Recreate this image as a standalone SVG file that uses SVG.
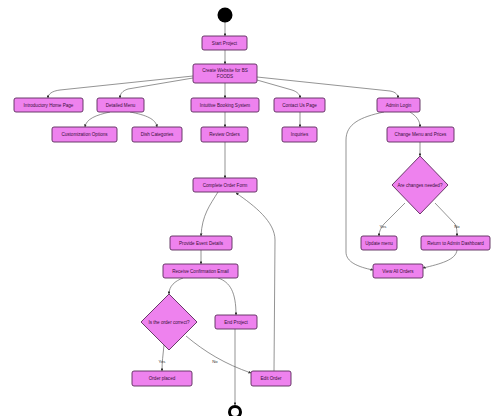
<svg xmlns="http://www.w3.org/2000/svg" width="491" height="416" viewBox="0 0 491 416">
<defs>
<marker id="ah" viewBox="0 0 6 6" refX="5.5" refY="3" markerWidth="4" markerHeight="4" orient="auto">
<path d="M0,0 L6,3 L0,6 z" fill="#333"/>
</marker>
<style>
.n{fill:#ee82ee;stroke:#5a2a5a;stroke-width:0.9}
.t{font-family:"Liberation Sans",Arial,sans-serif;font-size:4.6px;fill:#3a103a;text-anchor:middle;dominant-baseline:central}
.e{fill:none;stroke:#666;stroke-width:0.7;marker-end:url(#ah)}
.l{font-family:"Liberation Sans",Arial,sans-serif;font-size:4.2px;fill:#333;text-anchor:middle;dominant-baseline:central}
</style>
</defs>
<rect width="491" height="416" fill="#fff"/>
<g id="edges">
<path class="e" d="M225,22 L225,36"/>
<path class="e" d="M225,50 L225,64"/>
<path class="e" d="M193,76 L60,90 C52,91 48,94 48,98"/>
<path class="e" d="M193,78 L128,89 C122,91 120,94 120,98"/>
<path class="e" d="M225,83 L225,98"/>
<path class="e" d="M257,80 L292,90 C298,92 300,95 300,98"/>
<path class="e" d="M257,77 L390,91 C396,92 398,95 398,98"/>
<path class="e" d="M110,112 C96,115 86,119 85,127"/>
<path class="e" d="M130,112 C146,115 156,119 157,127"/>
<path class="e" d="M225,112 L225,127"/>
<path class="e" d="M300,112 L300,127"/>
<path class="e" d="M410,112 C416,116 420,120 420,127"/>
<path class="e" d="M225,142 L225,178"/>
<path class="e" d="M420,142 L420,156"/>
<path class="e" d="M405,203 L384,224 C381,228 379,231 379,236"/>
<path class="e" d="M435,203 L455,224 C457,228 457,231 457,236"/>
<path class="e" d="M457,250 C456,260 440,264 423,268"/>
<path class="e" d="M384,112 C360,117 346,124 346,140 L346,252 C346,262 358,267 373,270"/>
<path class="e" d="M218,192 C210,205 202,215 201,236"/>
<path class="e" d="M201,250 L201,264"/>
<path class="e" d="M183,278 C175,281 169,286 169,294"/>
<path class="e" d="M218,278 C230,282 236,292 236,315"/>
<path class="e" d="M235,329 L235,405"/>
<path class="e" d="M164,345 C163,355 162,362 162,371"/>
<path class="e" d="M186,336 C205,352 225,364 251,373"/>
<path class="e" d="M274,371 L275,240 C275,222 255,206 236,193"/>
<text class="l" x="383" y="226">Yes</text>
<text class="l" x="457" y="226">No</text>
<text class="l" x="162" y="361">Yes</text>
<text class="l" x="215" y="361">No</text>
</g>
<g id="start"><circle cx="225" cy="15" r="7.5" fill="#000"/></g>
<g id="end"><circle cx="235" cy="412" r="5.5" fill="#fff" stroke="#000" stroke-width="3"/></g>
<g id="start_project"><rect class="n" x="202" y="36" width="45" height="14" rx="2"/><text class="t" x="224.5" y="43">Start Project</text></g>
<g id="create_website"><rect class="n" x="193" y="64" width="64" height="19" rx="2"/><text class="t" x="225" y="70.5">Create Website for BS</text><text class="t" x="225" y="76.5">FOODS</text></g>
<g id="intro_home"><rect class="n" x="14" y="98" width="69" height="14" rx="2"/><text class="t" x="48.5" y="105">Introductory Home Page</text></g>
<g id="detailed_menu"><rect class="n" x="97" y="98" width="47" height="14" rx="2"/><text class="t" x="120.5" y="105">Detailed Menu</text></g>
<g id="booking"><rect class="n" x="191" y="98" width="68" height="14" rx="2"/><text class="t" x="225" y="105">Intuitive Booking System</text></g>
<g id="contact"><rect class="n" x="274" y="98" width="51" height="14" rx="2"/><text class="t" x="299.5" y="105">Contact Us Page</text></g>
<g id="admin_login"><rect class="n" x="377" y="98" width="43" height="14" rx="2"/><text class="t" x="398.5" y="105">Admin Login</text></g>
<g id="customization"><rect class="n" x="52" y="127" width="65" height="15" rx="2"/><text class="t" x="84.5" y="134.5">Customization Options</text></g>
<g id="dish_categories"><rect class="n" x="132" y="127" width="50" height="15" rx="2"/><text class="t" x="157" y="134.5">Dish Categories</text></g>
<g id="review_orders"><rect class="n" x="201" y="127" width="47" height="15" rx="2"/><text class="t" x="224.5" y="134.5">Review Orders</text></g>
<g id="inquiries"><rect class="n" x="282" y="127" width="35" height="15" rx="2"/><text class="t" x="299.5" y="134.5">Inquiries</text></g>
<g id="change_menu"><rect class="n" x="387" y="127" width="67" height="15" rx="2"/><text class="t" x="420.5" y="134.5">Change Menu and Prices</text></g>
<g id="changes_needed"><polygon class="n" points="420,156 448,185 420,214 392,185"/><text class="t" x="420" y="185">Are changes needed?</text></g>
<g id="update_menu"><rect class="n" x="361" y="236" width="36" height="14" rx="2"/><text class="t" x="379" y="243">Update menu</text></g>
<g id="return_admin"><rect class="n" x="421" y="236" width="69" height="14" rx="2"/><text class="t" x="455.5" y="243">Return to Admin Dashboard</text></g>
<g id="view_orders"><rect class="n" x="373" y="264" width="50" height="14" rx="2"/><text class="t" x="398" y="271">View All Orders</text></g>
<g id="complete_order"><rect class="n" x="193" y="178" width="64" height="14" rx="2"/><text class="t" x="225" y="185">Complete Order Form</text></g>
<g id="provide_event"><rect class="n" x="170" y="236" width="62" height="14" rx="2"/><text class="t" x="201" y="243">Provide Event Details</text></g>
<g id="receive_email"><rect class="n" x="163" y="264" width="75" height="14" rx="2"/><text class="t" x="200.5" y="271">Receive Confirmation Email</text></g>
<g id="order_correct"><polygon class="n" points="169,294 197,322 169,350 141,322"/><text class="t" x="169" y="322">Is the order correct?</text></g>
<g id="end_project"><rect class="n" x="215" y="315" width="42" height="14" rx="2"/><text class="t" x="236" y="322">End Project</text></g>
<g id="order_placed"><rect class="n" x="132" y="371" width="60" height="15" rx="2"/><text class="t" x="162" y="378.5">Order placed</text></g>
<g id="edit_order"><rect class="n" x="251" y="371" width="40" height="15" rx="2"/><text class="t" x="271" y="378.5">Edit Order</text></g>
</svg>
